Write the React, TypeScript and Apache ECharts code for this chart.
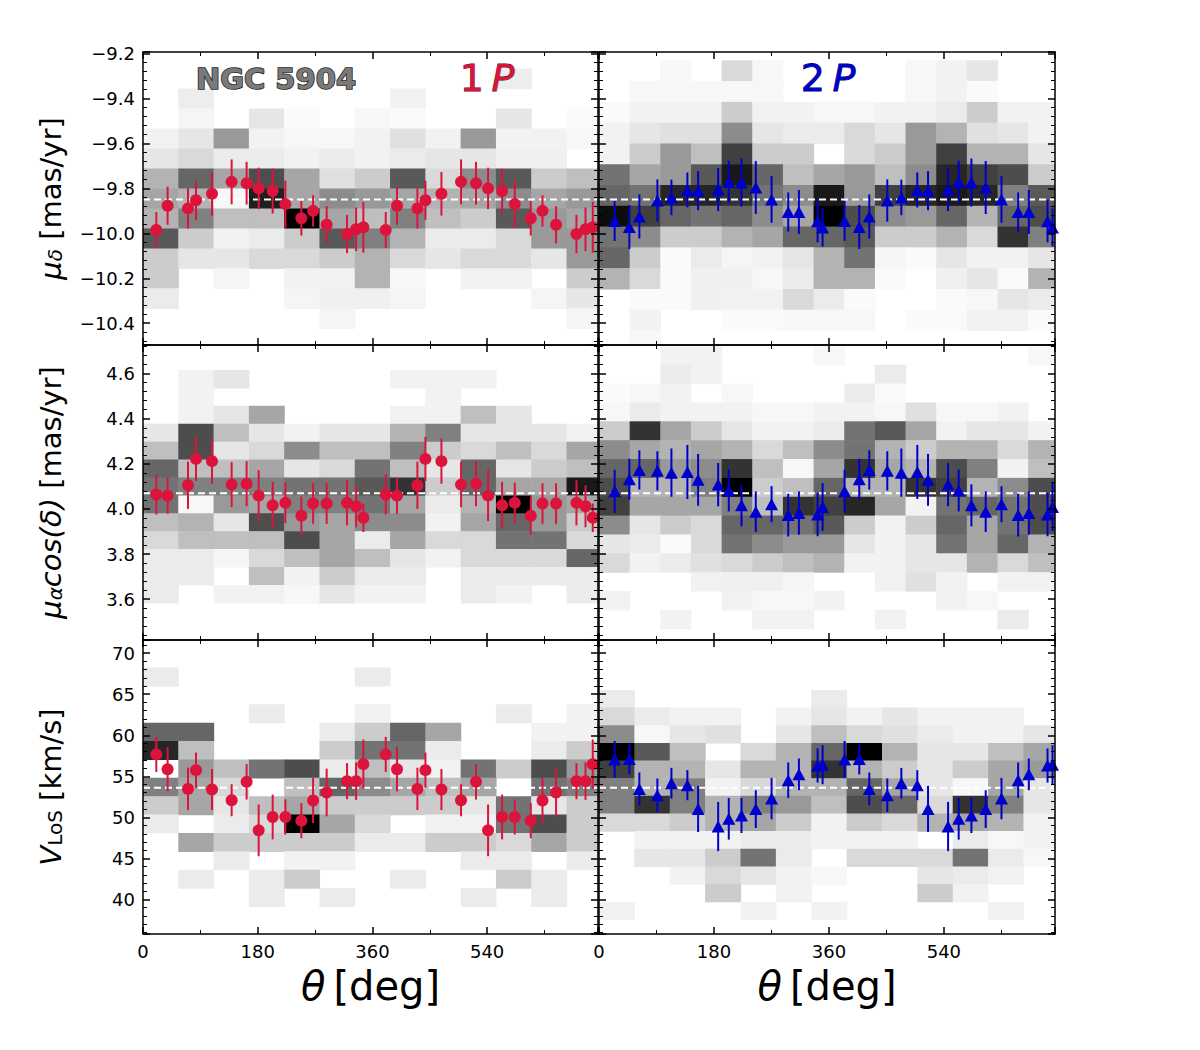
import React, { useEffect, useRef } from 'react';
import * as echarts from 'echarts';

const FONT = 'DejaVu Sans';
const RED = '#DC143C';
const BLUE = '#0000CD';

const X_MAX = 714;
const X_TICKS_STEP = 180;
const Y_RANGE_MUD = [-10.497, -9.193];
const Y_RANGE_MUA = [3.419, 4.727];
const Y_RANGE_VLOS = [35.8, 71.6];

const MEAN_MUD = -9.85;
const MEAN_MUA = 4.07;
const MEAN_VLOS = 53.6;

// ---- 1P points ----
const THETA_1P = [20.9, 38.6, 70.6, 83.2, 108.3, 139.1, 162.6, 181.5, 203.5, 223.4, 248.5, 266.9, 288.2, 320.2, 334.4, 345.8,
  380.9, 398.6, 430.6, 443.2, 468.3, 499.1, 522.6, 541.5, 563.5, 583.4, 608.5, 626.9, 648.2, 680.2, 694.4, 705.8];
const MUD_1P = [-9.985, -9.877, -9.889, -9.853, -9.824, -9.771, -9.777, -9.800, -9.812, -9.870, -9.933, -9.900, -9.962, -10.003, -9.982, -9.973,
  -9.985, -9.877, -9.889, -9.853, -9.824, -9.771, -9.777, -9.800, -9.812, -9.870, -9.933, -9.900, -9.962, -10.003, -9.982, -9.973];
const MUD_1P_ERR = [0.080, 0.085, 0.090, 0.087, 0.097, 0.100, 0.095, 0.092, 0.100, 0.105, 0.077, 0.070, 0.083, 0.085, 0.097, 0.113,
  0.080, 0.085, 0.090, 0.087, 0.097, 0.100, 0.095, 0.092, 0.100, 0.105, 0.077, 0.070, 0.083, 0.085, 0.097, 0.113];
const MUA_1P = [4.064, 4.059, 4.105, 4.222, 4.212, 4.108, 4.112, 4.059, 4.016, 4.027, 3.970, 4.024, 4.024, 4.027, 4.012, 3.961,
  4.064, 4.059, 4.105, 4.222, 4.212, 4.108, 4.112, 4.059, 4.016, 4.027, 3.970, 4.024, 4.024, 4.027, 4.012, 3.961];
const MUA_1P_ERR = [0.089, 0.080, 0.105, 0.098, 0.100, 0.100, 0.100, 0.113, 0.104, 0.090, 0.085, 0.090, 0.090, 0.100, 0.093, 0.063,
  0.089, 0.080, 0.105, 0.098, 0.100, 0.100, 0.100, 0.113, 0.104, 0.090, 0.085, 0.090, 0.090, 0.100, 0.093, 0.063];
const VLOS_1P = [57.67, 55.87, 53.47, 55.75, 53.39, 52.09, 54.33, 48.42, 50.05, 50.05, 49.60, 52.05, 53.03, 54.41, 54.41, 56.48,
  57.67, 55.87, 53.47, 55.75, 53.39, 52.09, 54.33, 48.42, 50.05, 50.05, 49.60, 52.05, 53.03, 54.41, 54.41, 56.48];
const VLOS_1P_ERR = [2.14, 2.70, 2.58, 2.14, 2.50, 1.95, 2.16, 3.15, 2.73, 2.14, 2.14, 2.75, 2.90, 2.20, 2.28, 3.00,
  2.14, 2.70, 2.58, 2.14, 2.50, 1.95, 2.16, 3.15, 2.73, 2.14, 2.14, 2.75, 2.90, 2.20, 2.28, 3.00];

// ---- 2P points ----
const THETA_2P = [24.5, 47.5, 63.2, 91.4, 113.4, 138.4, 155.2, 186.6, 203.2, 223.1, 245.5, 270.2, 296.3, 313.0, 342.3, 350.1,
  384.5, 407.5, 423.2, 451.4, 473.4, 498.4, 515.2, 546.6, 563.2, 583.1, 605.5, 630.2, 656.3, 673.0, 702.3, 710.1];
const MUD_2P = [-9.945, -9.972, -9.925, -9.854, -9.840, -9.807, -9.810, -9.805, -9.772, -9.774, -9.796, -9.849, -9.905, -9.905, -9.946, -9.974,
  -9.945, -9.972, -9.925, -9.854, -9.840, -9.807, -9.810, -9.805, -9.772, -9.774, -9.796, -9.849, -9.905, -9.905, -9.946, -9.974];
const MUD_2P_ERR = [0.089, 0.098, 0.098, 0.094, 0.079, 0.078, 0.087, 0.096, 0.095, 0.107, 0.118, 0.104, 0.087, 0.098, 0.094, 0.085,
  0.089, 0.098, 0.098, 0.094, 0.079, 0.078, 0.087, 0.096, 0.095, 0.107, 0.118, 0.104, 0.087, 0.098, 0.094, 0.085];
const MUA_2P = [4.078, 4.132, 4.173, 4.169, 4.161, 4.164, 4.129, 4.108, 4.082, 4.016, 3.988, 4.021, 3.973, 3.982, 3.975, 4.009,
  4.078, 4.132, 4.173, 4.169, 4.161, 4.164, 4.129, 4.108, 4.082, 4.016, 3.988, 4.021, 3.973, 3.982, 3.975, 4.009];
const MUA_2P_ERR = [0.096, 0.091, 0.087, 0.087, 0.107, 0.120, 0.115, 0.096, 0.093, 0.093, 0.090, 0.080, 0.095, 0.096, 0.096, 0.106,
  0.096, 0.091, 0.087, 0.087, 0.107, 0.120, 0.115, 0.096, 0.093, 0.093, 0.090, 0.080, 0.095, 0.096, 0.096, 0.106];
const VLOS_2P = [57.06, 57.12, 53.47, 52.70, 54.16, 53.92, 51.03, 48.89, 49.83, 50.24, 51.01, 52.29, 54.53, 55.24, 56.32, 56.42,
  57.06, 57.12, 53.47, 52.70, 54.16, 53.92, 51.03, 48.89, 49.83, 50.24, 51.01, 52.29, 54.53, 55.24, 56.32, 56.42];
const VLOS_2P_ERR = [2.24, 1.89, 2.00, 2.04, 1.87, 1.83, 2.81, 3.00, 2.54, 2.14, 2.30, 2.52, 2.16, 1.93, 2.08, 2.38,
  2.24, 1.89, 2.00, 2.04, 1.87, 1.83, 2.81, 3.00, 2.54, 2.14, 2.30, 2.52, 2.16, 1.93, 2.08, 2.38];

// ---- 2D histogram bins (darkness 0..1), rows listed from top ----
const BINS_TL = { nx: 13, yTop: -9.178, dy: 0.0889 };
const HEAT_TL = [
  [0, 0, 0, 0, 0, 0, 0, 0, 0, 0, 0, 0, 0],
  [0, 0, 0, 0, 0, 0, 0, 0, 0, 0, 0.07, 0, 0],
  [0, 0.07, 0, 0, 0, 0, 0, 0.05, 0, 0, 0, 0, 0],
  [0, 0.04, 0, 0.1, 0.02, 0, 0.03, 0.02, 0, 0, 0.1, 0, 0.02],
  [0.05, 0.1, 0.4, 0.05, 0.03, 0.03, 0.05, 0.12, 0.05, 0.4, 0.05, 0.05, 0.03],
  [0.1, 0.15, 0.08, 0.08, 0.05, 0.08, 0.05, 0.08, 0.1, 0.1, 0.06, 0.06, 0],
  [0.3, 0.6, 0.35, 0.7, 0.35, 0.12, 0.2, 0.65, 0.15, 0.45, 0.65, 0.2, 0.25],
  [0.35, 0.3, 0.03, 0.88, 0.35, 0.45, 0.4, 0.35, 0.3, 0.35, 0.45, 0.35, 0.4],
  [0.3, 0.5, 0.25, 0.25, 1, 0.35, 0.25, 0.5, 0.25, 0.2, 0.65, 0.4, 0.35],
  [0.65, 0.2, 0.05, 0.08, 0.2, 0.65, 0.5, 0.3, 0.08, 0.08, 0.15, 0.4, 0.4],
  [0.2, 0.1, 0.1, 0.15, 0.15, 0.2, 0.3, 0.15, 0.1, 0.15, 0.15, 0.1, 0.4],
  [0.2, 0, 0.04, 0, 0.05, 0.05, 0.3, 0.03, 0, 0.05, 0.05, 0, 0.2],
  [0.08, 0, 0, 0, 0.04, 0.06, 0.06, 0.04, 0, 0, 0, 0.04, 0.1],
  [0, 0, 0, 0, 0, 0.04, 0, 0, 0, 0, 0, 0, 0.04],
  [0, 0, 0, 0, 0, 0, 0, 0, 0, 0, 0, 0, 0],
];

const BINS_TR = { nx: 15, yTop: -9.23, dy: 0.0925 };
const HEAT_TR = [
  [0, 0, 0.03, 0, 0.15, 0.03, 0, 0, 0, 0, 0.03, 0.05, 0.1, 0, 0],
  [0, 0.03, 0.03, 0.03, 0.03, 0.03, 0, 0, 0, 0, 0.03, 0.05, 0.02, 0, 0],
  [0.02, 0.05, 0.05, 0.05, 0.2, 0.05, 0.05, 0.03, 0.03, 0.05, 0.05, 0.08, 0.2, 0.05, 0.05],
  [0.05, 0.1, 0.12, 0.12, 0.45, 0.1, 0.08, 0.08, 0.15, 0.1, 0.4, 0.3, 0.12, 0.1, 0.05],
  [0.05, 0.2, 0.4, 0.25, 0.75, 0.2, 0.2, 0, 0.15, 0.2, 0.4, 0.75, 0.3, 0.3, 0.1],
  [0.55, 0.35, 0.4, 0.65, 0.9, 0.6, 0.25, 0.35, 0.4, 0.25, 0.45, 0.85, 0.75, 0.7, 0.2],
  [0.6, 0.55, 0.85, 0.85, 0.8, 0.55, 0.45, 0.9, 0.4, 0.75, 0.85, 0.9, 0.85, 0.5, 0.65],
  [0.95, 0.75, 0.6, 0.55, 0.6, 0.45, 0.35, 1, 0.7, 0.45, 0.4, 0.6, 0.3, 0.6, 0.7],
  [0.55, 0.45, 0.2, 0.2, 0.3, 0.35, 0.6, 0.6, 0.65, 0.2, 0.2, 0.3, 0.15, 0.8, 0.5],
  [0.6, 0.2, 0.02, 0.08, 0.04, 0.05, 0.1, 0.3, 0.55, 0.04, 0.02, 0.1, 0.05, 0.05, 0.1],
  [0.3, 0.15, 0.02, 0.06, 0.06, 0.03, 0.08, 0.3, 0.3, 0.02, 0, 0.06, 0.1, 0.02, 0.3],
  [0, 0.02, 0.02, 0.06, 0.05, 0.05, 0.15, 0.08, 0.02, 0, 0, 0.02, 0.03, 0.1, 0.08],
  [0, 0.05, 0, 0, 0.02, 0.02, 0.03, 0.03, 0.03, 0, 0.02, 0.02, 0.05, 0.05, 0.02],
  [0, 0.03, 0, 0, 0, 0, 0, 0, 0, 0, 0, 0, 0, 0, 0],
];

const BINS_ML = { nx: 13, yTop: 4.616, dy: 0.0794 };
const HEAT_ML = [
  [0, 0.05, 0.1, 0, 0, 0, 0, 0.05, 0.05, 0.05, 0, 0, 0],
  [0, 0.05, 0, 0, 0, 0, 0, 0, 0.05, 0, 0, 0, 0],
  [0, 0.05, 0.1, 0.35, 0, 0, 0, 0.05, 0.05, 0.25, 0.1, 0, 0],
  [0.1, 0.7, 0.25, 0.1, 0.05, 0.1, 0.1, 0.3, 0.5, 0.1, 0.1, 0.1, 0.05],
  [0.25, 0.7, 0.1, 0.15, 0.45, 0.25, 0.25, 0.5, 0.2, 0.15, 0.25, 0.15, 0.35],
  [0.6, 0.25, 0.25, 0.35, 0.1, 0.15, 0.55, 0.25, 0.1, 0.6, 0.1, 0.2, 0.25],
  [0.55, 0.5, 0.5, 0.5, 0.55, 0.55, 0.65, 0.8, 0.2, 0.6, 0.35, 0.35, 0.9],
  [0.55, 0.03, 0.4, 0.35, 0.5, 0.5, 0.55, 0.35, 0.08, 0.3, 1, 0.4, 0.35],
  [0.25, 0.3, 0.1, 0.7, 0.4, 0.35, 0.45, 0.45, 0.05, 0.35, 0.6, 0.4, 0.2],
  [0.15, 0.25, 0.25, 0.25, 0.7, 0.35, 0.08, 0.35, 0.15, 0.15, 0.55, 0.55, 0.15],
  [0.08, 0.08, 0.04, 0.15, 0.25, 0.35, 0.25, 0.1, 0.05, 0.15, 0.15, 0.15, 0.6],
  [0.08, 0.08, 0, 0.25, 0.05, 0.2, 0.08, 0.08, 0, 0.08, 0.08, 0.08, 0.08],
  [0.08, 0, 0.05, 0.05, 0.03, 0.1, 0.05, 0.05, 0, 0.08, 0.05, 0, 0.08],
];

const BINS_MR = { nx: 15, yTop: 4.723, dy: 0.0836 };
const HEAT_MR = [
  [0, 0, 0.05, 0.05, 0, 0, 0, 0.03, 0, 0, 0, 0, 0, 0, 0.03],
  [0, 0, 0.08, 0.05, 0, 0, 0, 0, 0, 0.08, 0, 0, 0, 0, 0],
  [0.02, 0.03, 0.05, 0, 0.03, 0, 0, 0, 0.08, 0.02, 0, 0, 0, 0, 0],
  [0.03, 0.08, 0.05, 0.05, 0.05, 0.03, 0.03, 0.05, 0.05, 0.03, 0.12, 0.03, 0.03, 0.05, 0],
  [0.2, 0.8, 0.35, 0.2, 0.1, 0.05, 0.05, 0.08, 0.55, 0.65, 0.35, 0.05, 0.1, 0.1, 0.05],
  [0.45, 0.35, 0.3, 0.35, 0.3, 0.15, 0.25, 0.45, 0.55, 0.3, 0.2, 0.3, 0.3, 0.15, 0.3],
  [0.6, 0.6, 0.4, 0.45, 0.8, 0.25, 0.03, 0.35, 0.8, 0.35, 0.3, 0.7, 0.5, 0.05, 0.25],
  [0.7, 0.3, 0.3, 0.5, 1, 0.2, 0.25, 0.6, 0.3, 0.3, 0.8, 0.75, 0.3, 0.45, 0.7],
  [0.75, 0.35, 0.35, 0.35, 0.5, 0.25, 0.8, 0.75, 0.85, 0.35, 0.05, 0.55, 0.6, 0.55, 0.7],
  [0.45, 0.1, 0.2, 0.15, 0.6, 0.6, 0.55, 0.65, 0.2, 0.05, 0.2, 0.6, 0.35, 0.55, 0.7],
  [0.1, 0.08, 0.02, 0.15, 0.55, 0.45, 0.4, 0.4, 0.1, 0.05, 0.1, 0.55, 0.35, 0.6, 0.3],
  [0.15, 0.05, 0.08, 0.12, 0.15, 0.2, 0.25, 0.3, 0.05, 0.05, 0.1, 0.1, 0.3, 0.15, 0.25],
  [0, 0, 0, 0.05, 0.06, 0.06, 0.04, 0, 0, 0.05, 0.12, 0.05, 0, 0.05, 0.05],
  [0.05, 0, 0, 0, 0.05, 0.03, 0.03, 0.05, 0, 0, 0, 0.05, 0.03, 0, 0],
  [0, 0, 0.05, 0, 0, 0.05, 0.05, 0, 0, 0.05, 0, 0, 0, 0.08, 0],
];

const BINS_BL = { nx: 13, yTop: 68.24, dy: 2.237 };
const HEAT_BL = [
  [0.08, 0, 0, 0, 0, 0, 0.08, 0, 0, 0, 0, 0, 0],
  [0, 0, 0, 0, 0, 0, 0, 0, 0, 0, 0, 0, 0],
  [0, 0, 0, 0.08, 0, 0, 0.05, 0, 0, 0, 0.08, 0, 0.05],
  [0.6, 0.6, 0, 0, 0, 0.08, 0.2, 0.6, 0.35, 0, 0, 0.05, 0.05],
  [0.85, 0.25, 0, 0, 0, 0.2, 0.55, 0.55, 0.08, 0, 0, 0.08, 0.2],
  [0, 0.4, 0.25, 0.55, 0.7, 0.08, 0.25, 0.1, 0.05, 0.55, 0.2, 0.7, 0.4],
  [0.5, 0.35, 0.15, 0, 0.25, 0.6, 0.45, 0.35, 0.25, 0.35, 0, 0.55, 0.5],
  [0.2, 0.35, 0.1, 0.25, 0.35, 0.2, 0.2, 0.2, 0.2, 0.1, 0.55, 0.1, 0.2],
  [0.08, 0, 0.08, 0.15, 1, 0.35, 0.15, 0, 0.05, 0.05, 0.55, 0.7, 0.2],
  [0, 0.35, 0.2, 0.2, 0.2, 0.2, 0.08, 0.08, 0.2, 0.2, 0.15, 0.35, 0.2],
  [0, 0, 0.08, 0, 0.05, 0.05, 0, 0, 0, 0.08, 0.08, 0, 0.08],
  [0, 0.08, 0, 0.08, 0.2, 0, 0, 0.08, 0, 0, 0.2, 0.08, 0],
  [0, 0, 0, 0.08, 0, 0.08, 0, 0, 0, 0.08, 0, 0.08, 0],
];

const BINS_BR = { nx: 13, yTop: 65.52, dy: 2.149 };
const HEAT_BR = [
  [0.08, 0, 0, 0, 0, 0, 0.08, 0, 0, 0, 0, 0, 0],
  [0.15, 0.08, 0.05, 0.05, 0, 0.05, 0.1, 0.05, 0.1, 0.05, 0.05, 0.05, 0],
  [0.45, 0.03, 0.1, 0.12, 0, 0.1, 0.25, 0.15, 0.12, 0.08, 0.05, 0.05, 0.1],
  [1, 0.65, 0.25, 0, 0.15, 0.3, 0.6, 1, 0.3, 0.1, 0.1, 0.25, 0.35],
  [0.75, 0.3, 0.3, 0.1, 0.3, 0.3, 0.8, 0.3, 0.2, 0.1, 0.2, 0.35, 0.4],
  [0.5, 0.3, 0.5, 0.05, 0.15, 0.3, 0.3, 0.6, 0.35, 0.1, 0.03, 0.35, 0.1],
  [0.5, 0.8, 0.5, 0.3, 0.5, 0.4, 0.25, 0.7, 0.6, 0.15, 0.8, 0.5, 0.1],
  [0.15, 0.15, 0.2, 0.3, 0.35, 0.2, 0.05, 0.2, 0.15, 0.3, 0.35, 0.3, 0.05],
  [0, 0.05, 0.05, 0.05, 0.08, 0.08, 0.05, 0.05, 0.05, 0, 0.08, 0.03, 0.05],
  [0, 0.1, 0.1, 0.2, 0.55, 0.08, 0, 0.15, 0.15, 0.15, 0.55, 0.08, 0.03],
  [0, 0, 0.05, 0.15, 0.1, 0.05, 0.03, 0, 0, 0.1, 0.08, 0.05, 0],
  [0, 0, 0, 0.2, 0, 0.05, 0, 0, 0, 0.2, 0.05, 0, 0],
  [0.05, 0, 0, 0, 0.05, 0, 0.05, 0, 0, 0, 0, 0.05, 0],
];

// ---- layout (pixels) ----
const GRIDS = [
  { left: 143, top: 52, width: 455, height: 293 },
  { left: 599, top: 52, width: 456, height: 293 },
  { left: 143, top: 345, width: 455, height: 295 },
  { left: 599, top: 345, width: 456, height: 295 },
  { left: 143, top: 640, width: 455, height: 294 },
  { left: 599, top: 640, width: 456, height: 294 },
];

const PANELS = [
  { heat: HEAT_TL, bins: BINS_TL, theta: THETA_1P, y: MUD_1P, err: MUD_1P_ERR, color: RED, symbol: 'circle', mean: MEAN_MUD, range: Y_RANGE_MUD, step: 0.2, dec: 1 },
  { heat: HEAT_TR, bins: BINS_TR, theta: THETA_2P, y: MUD_2P, err: MUD_2P_ERR, color: BLUE, symbol: 'triangle', mean: MEAN_MUD, range: Y_RANGE_MUD, step: 0.2, dec: 1 },
  { heat: HEAT_ML, bins: BINS_ML, theta: THETA_1P, y: MUA_1P, err: MUA_1P_ERR, color: RED, symbol: 'circle', mean: MEAN_MUA, range: Y_RANGE_MUA, step: 0.2, dec: 1 },
  { heat: HEAT_MR, bins: BINS_MR, theta: THETA_2P, y: MUA_2P, err: MUA_2P_ERR, color: BLUE, symbol: 'triangle', mean: MEAN_MUA, range: Y_RANGE_MUA, step: 0.2, dec: 1 },
  { heat: HEAT_BL, bins: BINS_BL, theta: THETA_1P, y: VLOS_1P, err: VLOS_1P_ERR, color: RED, symbol: 'circle', mean: MEAN_VLOS, range: Y_RANGE_VLOS, step: 5, dec: 0 },
  { heat: HEAT_BR, bins: BINS_BR, theta: THETA_2P, y: VLOS_2P, err: VLOS_2P_ERR, color: BLUE, symbol: 'triangle', mean: MEAN_VLOS, range: Y_RANGE_VLOS, step: 5, dec: 0 },
];

const Y_NAMES = [
  '{mu|μ}{sub|δ}{t| [mas/yr]}',
  '{mu|μ}{sub|α}{mu|cos(δ)}{t| [mas/yr]}',
  '{mu|V}{subr|LoS}{t| [km/s]}',
];

const AX_LINE = { show: true, onZero: false, lineStyle: { color: '#000', width: 1.5 } };
const AX_TICK = { show: true, inside: true, length: 7, lineStyle: { color: '#000', width: 1.5 } };

function minorTick(n: number) {
  return { show: true, splitNumber: n, length: 4, lineStyle: { color: '#000', width: 1 } };
}

function buildOption() {
  const grid = GRIDS.map((g) => ({ ...g, containLabel: false }));
  const xAxis: any[] = [];
  const yAxis: any[] = [];
  const series: any[] = [];

  PANELS.forEach((p, i) => {
    const row = Math.floor(i / 2);
    const col = i % 2;
    const bottomRow = row === 2;
    const leftCol = col === 0;

    const xCommon = {
      type: 'value', gridIndex: i, min: 0, max: X_MAX, interval: X_TICKS_STEP, z: 10,
      axisLine: AX_LINE, axisTick: AX_TICK, minorTick: minorTick(2),
      splitLine: { show: false }, minorSplitLine: { show: false },
    };
    xAxis.push({
      ...xCommon, position: 'bottom',
      axisLabel: { show: bottomRow, fontSize: 18, color: '#000', fontFamily: FONT, margin: 8, showMaxLabel: false, formatter: (v: number) => String(v) },
      name: bottomRow ? '{it|θ}{t|\u2009[deg]}' : '',
      nameLocation: 'middle', nameGap: 33,
      nameTextStyle: {
        fontFamily: FONT, fontSize: 40, color: '#000', lineHeight: 38,
        rich: {
          it: { fontFamily: FONT, fontSize: 40, fontStyle: 'italic', color: '#000', lineHeight: 38 },
          t: { fontFamily: FONT, fontSize: 40, color: '#000', lineHeight: 38 },
        },
      },
    });
    xAxis.push({ ...xCommon, position: 'top', axisLabel: { show: false } });

    const fmt = (v: number) => v.toFixed(p.dec).replace('-', '\u2212');
    const yCommon = {
      type: 'value', gridIndex: i, min: p.range[0], max: p.range[1],
      minInterval: p.step, maxInterval: p.step, splitNumber: 6, z: 10,
      axisLine: AX_LINE, axisTick: AX_TICK, minorTick: minorTick(5),
      splitLine: { show: false }, minorSplitLine: { show: false },
    };
    yAxis.push({
      ...yCommon, position: 'left',
      axisLabel: { show: leftCol, fontSize: 18, color: '#000', fontFamily: FONT, margin: 8, showMinLabel: false, showMaxLabel: false, formatter: fmt },
      name: leftCol ? Y_NAMES[row] : '',
      nameLocation: 'middle', nameGap: 78,
      nameTextStyle: {
        fontFamily: FONT, fontSize: 29, color: '#000',
        rich: {
          mu: { fontFamily: FONT, fontSize: 29, fontStyle: 'italic', color: '#000', lineHeight: 36, verticalAlign: 'bottom' },
          sub: { fontFamily: FONT, fontSize: 20, fontStyle: 'italic', color: '#000', lineHeight: 28, verticalAlign: 'bottom' },
          subr: { fontFamily: FONT, fontSize: 20, color: '#000', lineHeight: 28, verticalAlign: 'bottom' },
          t: { fontFamily: FONT, fontSize: 29, color: '#000', lineHeight: 36, verticalAlign: 'bottom' },
        },
      },
    });
    yAxis.push({ ...yCommon, position: 'right', axisLabel: { show: false } });

    const xi = 2 * i;
    const yi = 2 * i;

    // 2D histogram
    const cells: number[][] = [];
    const bw = 720 / p.bins.nx;
    p.heat.forEach((rowVals, r) => {
      const yHi = p.bins.yTop - r * p.bins.dy;
      const yLo = yHi - p.bins.dy;
      rowVals.forEach((v, c) => {
        cells.push([c * bw, (c + 1) * bw, yLo, yHi, v]);
      });
    });
    series.push({
      type: 'custom', xAxisIndex: xi, yAxisIndex: yi, z: 1, silent: true,
      data: cells, encode: { x: [0, 1], y: [2, 3] },
      renderItem: (params: any, api: any) => {
        const v = api.value(4);
        if (!v) return null;
        const p0 = api.coord([api.value(0), api.value(3)]);
        const p1 = api.coord([api.value(1), api.value(2)]);
        const cs = params.coordSys;
        const shape = echarts.graphic.clipRectByRect(
          { x: p0[0], y: p0[1], width: p1[0] - p0[0] + 0.6, height: p1[1] - p0[1] + 0.6 },
          { x: cs.x, y: cs.y, width: cs.width, height: cs.height }
        );
        if (!shape) return null;
        const g = Math.round(255 * (1 - v));
        return { type: 'rect', shape, style: { fill: `rgb(${g},${g},${g})` } };
      },
    });

    // mean dashed line
    series.push({
      type: 'line', xAxisIndex: xi, yAxisIndex: yi, z: 2, silent: true, symbol: 'none',
      data: [[0, p.mean], [X_MAX, p.mean]],
      lineStyle: { color: '#ffffff', width: 2, type: [7, 4] },
    });

    // error bars
    series.push({
      type: 'custom', xAxisIndex: xi, yAxisIndex: yi, z: 3, silent: true,
      data: p.theta.map((t, k) => [t, p.y[k] - p.err[k], p.y[k] + p.err[k]]),
      encode: { x: 0, y: [1, 2] },
      renderItem: (params: any, api: any) => {
        const a = api.coord([api.value(0), api.value(1)]);
        const b = api.coord([api.value(0), api.value(2)]);
        return { type: 'line', shape: { x1: a[0], y1: a[1], x2: b[0], y2: b[1] }, style: { stroke: p.color, lineWidth: 2 } };
      },
    });

    // markers
    series.push({
      type: 'scatter', xAxisIndex: xi, yAxisIndex: yi, z: 4, silent: true,
      symbol: p.symbol, symbolSize: p.symbol === 'circle' ? 12 : [13, 12],
      itemStyle: { color: p.color, opacity: 1 },
      data: p.theta.map((t, k) => [t, p.y[k]]),
    });
  });

  const graphic = [
    {
      type: 'text', x: 276, y: 79, z: 100, silent: true,
      style: {
        text: 'NGC 5904', fontFamily: FONT, fontSize: 29, fontWeight: 'bold',
        fill: '#7a7a7a', stroke: '#262626', lineWidth: 1.6, align: 'center', verticalAlign: 'middle',
      },
    },
    {
      type: 'text', x: 487, y: 78, z: 100, silent: true,
      style: {
        text: '{a|1}{b|\u2009P}', fontFamily: FONT, fontSize: 38, fill: RED, stroke: '#40101a', lineWidth: 0.8,
        align: 'center', verticalAlign: 'middle',
        rich: {
          a: { fontFamily: FONT, fontSize: 38, fill: RED, stroke: '#40101a', lineWidth: 0.8 },
          b: { fontFamily: FONT, fontSize: 38, fontStyle: 'italic', fill: RED, stroke: '#40101a', lineWidth: 0.8 },
        },
      },
    },
    {
      type: 'text', x: 828, y: 78, z: 100, silent: true,
      style: {
        text: '{a|2}{b|\u2009P}', fontFamily: FONT, fontSize: 38, fill: BLUE, stroke: '#000040', lineWidth: 0.8,
        align: 'center', verticalAlign: 'middle',
        rich: {
          a: { fontFamily: FONT, fontSize: 38, fill: BLUE, stroke: '#000040', lineWidth: 0.8 },
          b: { fontFamily: FONT, fontSize: 38, fontStyle: 'italic', fill: BLUE, stroke: '#000040', lineWidth: 0.8 },
        },
      },
    },
  ];

  return {
    animation: false,
    backgroundColor: '#ffffff',
    textStyle: { fontFamily: FONT },
    grid, xAxis, yAxis, series, graphic,
  };
}

export default function App() {
  const ref = useRef<HTMLDivElement>(null);
  useEffect(() => {
    if (!ref.current) return;
    const chart = echarts.init(ref.current, undefined, { renderer: 'svg' });
    chart.setOption(buildOption() as any);
    return () => chart.dispose();
  }, []);
  return <div ref={ref} style={{ position: 'absolute', left: 0, top: 0, width: 1200, height: 1050 }} />;
}
